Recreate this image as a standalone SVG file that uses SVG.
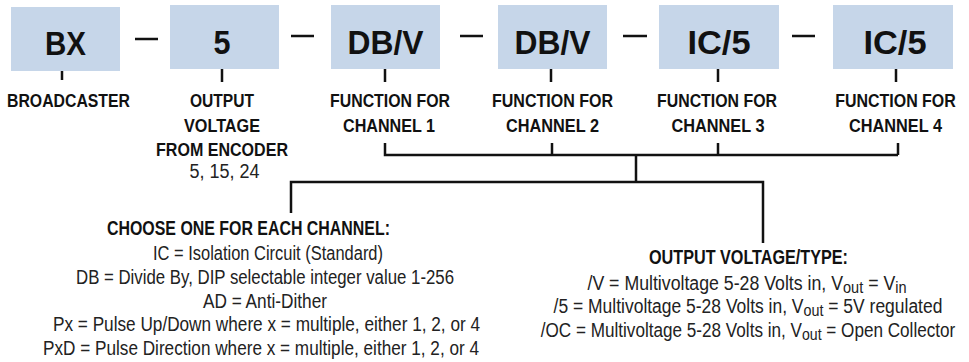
<svg xmlns="http://www.w3.org/2000/svg" width="969" height="362" viewBox="0 0 969 362">
<style>
.box{fill:#c6d6e9}
.code{font-family:"Liberation Sans Narrow","Liberation Sans",Arial,sans-serif;font-weight:bold;font-size:34px;fill:#111;text-anchor:middle}
.lbl{font-family:"Liberation Sans Narrow","Liberation Sans",Arial,sans-serif;font-weight:bold;font-size:18.5px;fill:#111;text-anchor:middle}
.hd{font-family:"Liberation Sans Narrow","Liberation Sans",Arial,sans-serif;font-weight:bold;font-size:20px;fill:#111;text-anchor:middle}
.txt{font-family:"Liberation Sans Narrow","Liberation Sans",Arial,sans-serif;font-size:19.5px;fill:#222;text-anchor:middle}
.ln{stroke:#111;stroke-width:2.5;fill:none}
.sub{font-size:16px}
</style>
<g id="connectors">
<path class="ln" d="M135 39H158M291 36H314M460 36H483M623 36H647M792 36H815"/>
<path class="ln" d="M62 71V80M222 69V82M385 69V82M551 69V82M718 69V82M896 69V82"/>
<path class="ln" d="M385 143V155H898M552 143V155M718 143V155M898 143V155M636 155V182M291 213V182H763V243"/>
</g>
<g id="node-bx">
<rect class="box" x="11" y="7" width="109" height="64"/>
<text class="code" x="65.5" y="55" textLength="41" lengthAdjust="spacingAndGlyphs">BX</text>
<text class="lbl" x="68.5" y="107" textLength="123" lengthAdjust="spacingAndGlyphs">BROADCASTER</text>
</g>
<g id="node-5">
<rect class="box" x="170" y="5" width="109" height="64"/>
<text class="code" x="222" y="54" textLength="17" lengthAdjust="spacingAndGlyphs">5</text>
<text class="lbl" x="222" y="107" textLength="64" lengthAdjust="spacingAndGlyphs">OUTPUT</text>
<text class="lbl" x="222" y="132" textLength="76" lengthAdjust="spacingAndGlyphs">VOLTAGE</text>
<text class="lbl" x="222" y="156" textLength="132" lengthAdjust="spacingAndGlyphs">FROM ENCODER</text>
<text class="txt" x="224.5" y="178" textLength="70" lengthAdjust="spacingAndGlyphs">5, 15, 24</text>
</g>
<g id="node-ch1">
<rect class="box" x="331" y="5" width="109" height="64"/>
<text class="code" x="385.5" y="54" textLength="76" lengthAdjust="spacingAndGlyphs">DB/V</text>
<text class="lbl" x="390" y="107" textLength="120" lengthAdjust="spacingAndGlyphs">FUNCTION FOR</text>
<text class="lbl" x="389" y="132" textLength="92" lengthAdjust="spacingAndGlyphs">CHANNEL 1</text>
</g>
<g id="node-ch2">
<rect class="box" x="498" y="5" width="109" height="64"/>
<text class="code" x="552.5" y="54" textLength="76" lengthAdjust="spacingAndGlyphs">DB/V</text>
<text class="lbl" x="552.5" y="107" textLength="121" lengthAdjust="spacingAndGlyphs">FUNCTION FOR</text>
<text class="lbl" x="552.5" y="132" textLength="93" lengthAdjust="spacingAndGlyphs">CHANNEL 2</text>
</g>
<g id="node-ch3">
<rect class="box" x="659" y="5" width="120" height="64"/>
<text class="code" x="719" y="54" textLength="63" lengthAdjust="spacingAndGlyphs">IC/5</text>
<text class="lbl" x="717" y="107" textLength="120" lengthAdjust="spacingAndGlyphs">FUNCTION FOR</text>
<text class="lbl" x="718" y="132" textLength="93" lengthAdjust="spacingAndGlyphs">CHANNEL 3</text>
</g>
<g id="node-ch4">
<rect class="box" x="833" y="5" width="120" height="64"/>
<text class="code" x="895" y="54" textLength="63" lengthAdjust="spacingAndGlyphs">IC/5</text>
<text class="lbl" transform="translate(895.5 107) scale(0.864 1)" x="0" y="0">FUNCTION FOR</text>
<text class="lbl" x="895.5" y="132" textLength="93" lengthAdjust="spacingAndGlyphs">CHANNEL 4</text>
</g>
<g id="node-choose">
<text class="hd" x="248.5" y="235" textLength="283" lengthAdjust="spacingAndGlyphs">CHOOSE ONE FOR EACH CHANNEL:</text>
<text class="txt" x="268" y="260" textLength="230" lengthAdjust="spacingAndGlyphs">IC = Isolation Circuit (Standard)</text>
<text class="txt" x="265" y="284" textLength="378" lengthAdjust="spacingAndGlyphs">DB = Divide By, DIP selectable integer value 1-256</text>
<text class="txt" x="265" y="308" textLength="124" lengthAdjust="spacingAndGlyphs">AD = Anti-Dither</text>
<text class="txt" x="266.5" y="331" textLength="427" lengthAdjust="spacingAndGlyphs">Px = Pulse Up/Down where x = multiple, either 1, 2, or 4</text>
<text class="txt" x="261" y="355" textLength="436" lengthAdjust="spacingAndGlyphs">PxD = Pulse Direction where x = multiple, either 1, 2, or 4</text>
</g>
<g id="node-output">
<text class="hd" x="748.5" y="264" textLength="199" lengthAdjust="spacingAndGlyphs">OUTPUT VOLTAGE/TYPE:</text>
<text class="txt" transform="translate(747 290) scale(0.909 1)" x="0" y="0">/V = Multivoltage 5-28 Volts in, V<tspan class="sub" dy="3">out</tspan><tspan dy="-3"> = V</tspan><tspan class="sub" dy="3">in</tspan></text>
<text class="txt" transform="translate(748 313) scale(0.896 1)" x="0" y="0">/5 = Multivoltage 5-28 Volts in, V<tspan class="sub" dy="3">out</tspan><tspan dy="-3"> = 5V regulated</tspan></text>
<text class="txt" transform="translate(748 337) scale(0.879 1)" x="0" y="0">/OC = Multivoltage 5-28 Volts in, V<tspan class="sub" dy="3">out</tspan><tspan dy="-3"> = Open Collector</tspan></text>
</g>
</svg>
